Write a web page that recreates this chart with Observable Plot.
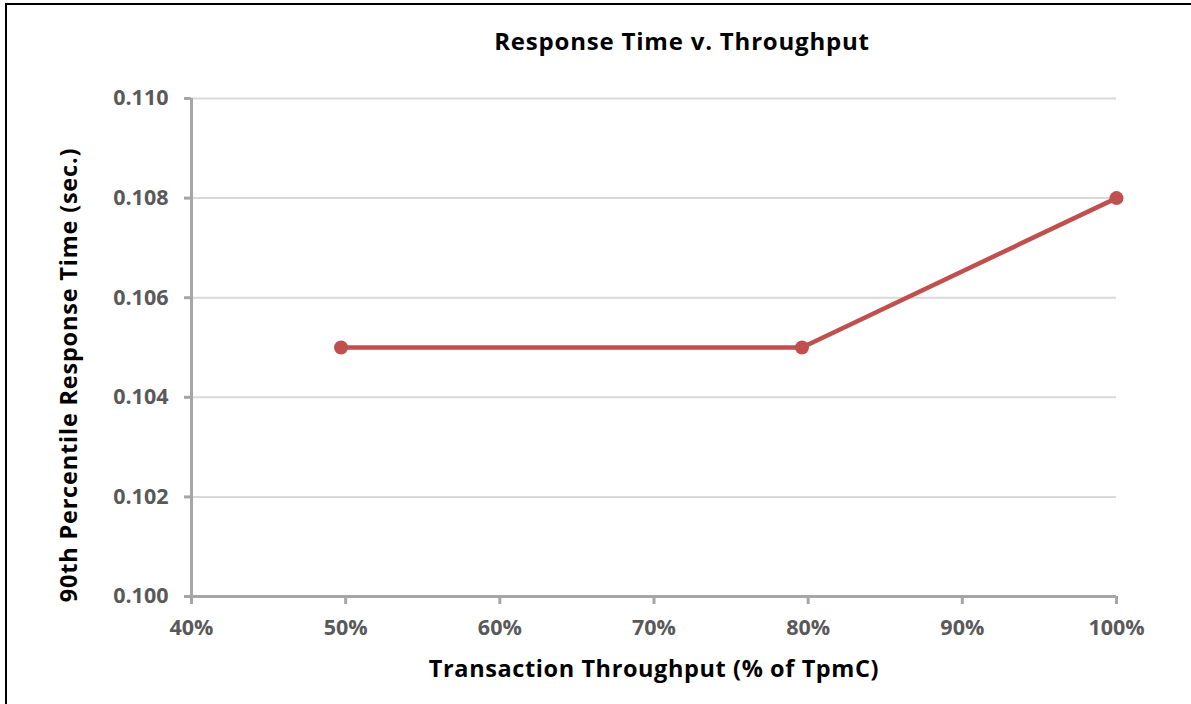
<!DOCTYPE html>
<html>
<head>
<meta charset="utf-8">
<script src="https://cdn.jsdelivr.net/npm/d3@7"></script>
<script src="https://cdn.jsdelivr.net/npm/@observablehq/plot@0.6"></script>
<style>
  html, body { margin: 0; padding: 0; background: #fff; }
  #wrap { position: relative; width: 1191px; height: 704px; overflow: hidden; font-family: "Open Sans", sans-serif; }
  #frame { position: absolute; left: 5px; top: 3px; width: 1200px; height: 720px; border-top: 2px solid #000; border-left: 2px solid #000; box-sizing: border-box; pointer-events: none; }
  #chart { position: absolute; left: 0; top: 0; }
  .lbl { position: absolute; font-weight: 700; color: #000; white-space: nowrap; line-height: normal; }
  #title { left: 682px; top: 24px; transform: translateX(-50%); font-size: 24px; letter-spacing: 0.8px; }
  #xlab { left: 654px; top: 652px; transform: translateX(-50%); font-size: 23.5px; letter-spacing: 0.6px; }
  #ylab { left: 68px; top: 375px; transform: translate(-50%, -50%) rotate(-90deg); font-size: 23.5px; letter-spacing: 0.8px; }
</style>
</head>
<body>
<div id="wrap">
  <div id="chart"></div>
  <div id="title" class="lbl">Response Time v. Throughput</div>
  <div id="xlab" class="lbl">Transaction Throughput (% of TpmC)</div>
  <div id="ylab" class="lbl">90th Percentile Response Time (sec.)</div>
  <div id="frame"></div>
</div>
<script>
const throughput = [0.497, 0.796, 1.0];
const responseTime = [0.105, 0.105, 0.108];
const xTicks = [0.4, 0.5, 0.6, 0.7, 0.8, 0.9, 1.0];
const yTicks = [0.100, 0.102, 0.104, 0.106, 0.108, 0.110];

const data = throughput.map((x, i) => ({x, y: responseTime[i]}));

const chart = Plot.plot({
  width: 1191,
  height: 704,
  marginLeft: 191,
  marginRight: 75,
  marginTop: 98,
  marginBottom: 108,
  style: {fontFamily: "'Open Sans', sans-serif", fontSize: "21.5px", fontWeight: "700", background: "transparent", overflow: "visible"},
  x: {domain: [0.4, 1.0], ticks: xTicks},
  y: {domain: [0.100, 0.110], ticks: yTicks},
  marks: [
    Plot.gridY(yTicks.slice(1), {stroke: "#d9d9d9", strokeWidth: 2, strokeOpacity: 1}),
    Plot.ruleY([yTicks[0]], {stroke: "#a6a6a6", strokeWidth: 3}),
    Plot.ruleX([xTicks[0]], {stroke: "#a6a6a6", strokeWidth: 3}),
    Plot.axisX({ticks: xTicks, tickSize: 8, tickPadding: 15, stroke: "#a6a6a6", strokeWidth: 3, fill: "#595959", tickFormat: d => Math.round(d * 100) + "%", label: null}),
    Plot.axisY({ticks: yTicks, tickSize: 7, tickPadding: 16, stroke: "#a6a6a6", strokeWidth: 3, fill: "#595959", tickFormat: d3.format(".3f"), label: null}),
    Plot.line(data, {x: "x", y: "y", stroke: "#c0504d", strokeWidth: 4.5}),
    Plot.dot(data, {x: "x", y: "y", r: 7, fill: "#c0504d", stroke: "none"})
  ]
});
document.getElementById("chart").appendChild(chart);
</script>
</body>
</html>
